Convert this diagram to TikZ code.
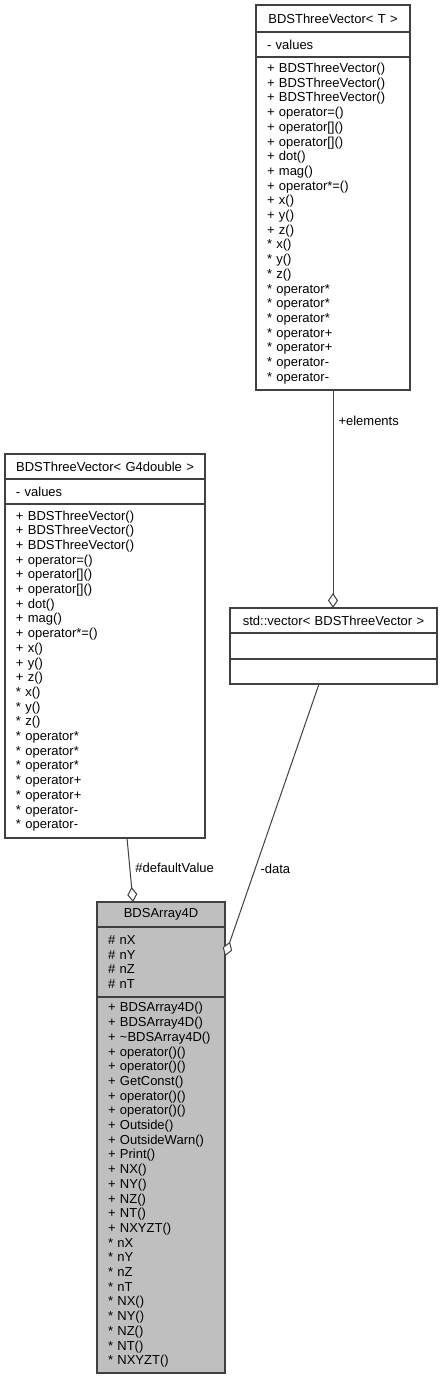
\documentclass[tikz,border=0pt]{standalone}
\usepackage{fontspec}
\setmainfont{Liberation Sans}
\usepackage{xcolor}
\usetikzlibrary{arrows.meta,positioning}
\definecolor{grey75}{HTML}{BFBFBF}
\definecolor{grey25}{HTML}{404040}

\begin{document}
\begin{tikzpicture}
	[x=1pt, y=-1pt, node distance=0pt,
		% STYLES
		% The compartment style is used for every part of a class box
		compartment/.style={rectangle, draw=grey25, line width=1.5pt,
				fill=white, inner xsep=11pt, inner ysep=0pt, outer sep=0pt,
				text width=#1, font=\fontsize{13}{14.7}\selectfont},
		% The classname style is used to draw the name on top of a class
		classname/.style={compartment=#1, align=center},
		% The members style is used for the attribute and method lists
		members/.style={compartment=#1, align=left},
		% The focus style marks the class the graph is drawn for
		focus/.style={fill=grey75},
		% The assoc style is used to draw the associations
		assoc/.style={draw=grey25, line width=1pt,
				-{Diamond[fill=white, length=15pt, width=10pt]}},
		edgelabel/.style={right, inner sep=5pt, text=black,
				font=\fontsize{13}{14.7}\selectfont}]

	\path[fill=white, use as bounding box] (0,0) rectangle (442,1380);

	% BDSThreeVector< T >
	\node [classname=132pt, minimum height=27pt, anchor=north west] (tname)
	at (256,5) {BDSThreeVector< T >};
	\node [members=132pt, minimum height=25pt, below=of tname] (tattr)
	{- values};
	\node [members=132pt, minimum height=333pt, below=of tattr] (tmeth)
	{+ BDSThreeVector()\\ + BDSThreeVector()\\ + BDSThreeVector()\\
		+ operator=()\\ + operator[]()\\ + operator[]()\\ + dot()\\ + mag()\\
		+ operator*=()\\ + x()\\ + y()\\ + z()\\ {*} x()\\ {*} y()\\ {*} z()\\
		{*} operator*\\ {*} operator*\\ {*} operator*\\ {*} operator+\\
		{*} operator+\\ {*} operator-\\ {*} operator-};

	% BDSThreeVector< G4double >
	\node [classname=178pt, minimum height=25pt, anchor=north west] (gname)
	at (5,454) {BDSThreeVector< G4double >};
	\node [members=178pt, minimum height=25pt, below=of gname] (gattr)
	{- values};
	\node [members=178pt, minimum height=334pt, below=of gattr] (gmeth)
	{+ BDSThreeVector()\\ + BDSThreeVector()\\ + BDSThreeVector()\\
		+ operator=()\\ + operator[]()\\ + operator[]()\\ + dot()\\ + mag()\\
		+ operator*=()\\ + x()\\ + y()\\ + z()\\ {*} x()\\ {*} y()\\ {*} z()\\
		{*} operator*\\ {*} operator*\\ {*} operator*\\ {*} operator+\\
		{*} operator+\\ {*} operator-\\ {*} operator-};

	% std::vector< BDSThreeVector >
	\node [classname=185pt, minimum height=25pt, anchor=north west] (vname)
	at (230,608) {std::vector< BDSThreeVector >};
	\node [members=185pt, minimum height=26pt, below=of vname] (vattr) {};
	\node [members=185pt, minimum height=25pt, below=of vattr] (vmeth) {};

	% BDSArray4D
	\node [classname=106pt, focus, minimum height=25pt, anchor=north west]
	(aname) at (97,902) {BDSArray4D};
	\node [members=106pt, focus, minimum height=70pt, below=of aname]
	(aattr) {\# nX\\ \# nY\\ \# nZ\\ \# nT};
	\node [members=106pt, focus, minimum height=376pt, below=of aattr]
	(ameth)
	{+ BDSArray4D()\\ + BDSArray4D()\\ + \textasciitilde BDSArray4D()\\
		+ operator()()\\ + operator()()\\ + GetConst()\\ + operator()()\\
		+ operator()()\\ + Outside()\\ + OutsideWarn()\\ + Print()\\ + NX()\\
		+ NY()\\ + NZ()\\ + NT()\\ + NXYZT()\\ {*} nX\\ {*} nY\\ {*} nZ\\
		{*} nT\\ {*} NX()\\ {*} NY()\\ {*} NZ()\\ {*} NT()\\ {*} NXYZT()};

	% Associations
	\draw[assoc] (tmeth.south) -- node[edgelabel, pos=0.14] {+elements}
	(tmeth.south |- vname.north);
	\draw[assoc] ([xshift=22pt]gmeth.south) -- node[edgelabel, pos=0.47]
	{\#defaultValue} ([xshift=-28pt]aname.north);
	\draw[assoc] ([xshift=-14.5pt]vmeth.south) -- node[edgelabel, pos=0.68]
	{-data} ([yshift=6pt]aattr.east);

\end{tikzpicture}
\end{document}
